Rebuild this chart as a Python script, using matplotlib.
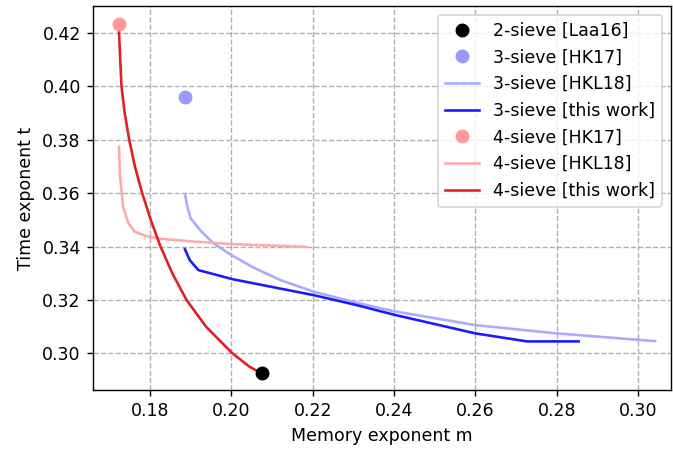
import matplotlib
matplotlib.use("Agg")
import matplotlib.pyplot as plt

# 2-sieve [Laa16]
laa16_m = [0.2075]
laa16_t = [0.2925]

# 3-sieve [HK17]
hk17_3_m = [0.1887]
hk17_3_t = [0.3962]

# 3-sieve [HKL18]
hkl18_3_m = [0.1886, 0.1892, 0.1900, 0.1923, 0.1956, 0.2003, 0.2054, 0.2120, 0.2203, 0.2308, 0.2400, 0.2600, 0.2800, 0.3042]
hkl18_3_t = [0.3597, 0.3549, 0.3506, 0.3462, 0.3412, 0.3366, 0.3322, 0.3275, 0.3231, 0.3190, 0.3158, 0.3106, 0.3075, 0.3046]

# 3-sieve [this work]
this_3_m = [0.1886, 0.1898, 0.1919, 0.2003, 0.2203, 0.2308, 0.2400, 0.2600, 0.2727, 0.2854]
this_3_t = [0.3390, 0.3349, 0.3312, 0.3278, 0.3218, 0.3181, 0.3145, 0.3075, 0.3045, 0.3045]

# 4-sieve [HK17]
hk17_4_m = [0.1723]
hk17_4_t = [0.4234]

# 4-sieve [HKL18]
hkl18_4_m = [0.1724, 0.1726, 0.1734, 0.1747, 0.1763, 0.1792, 0.1825, 0.1907, 0.2005, 0.2184]
hkl18_4_t = [0.3774, 0.3674, 0.3549, 0.3487, 0.3455, 0.3439, 0.3429, 0.3419, 0.3409, 0.3399]

# 4-sieve [this work]
this_4_m = [0.1723, 0.1727, 0.1730, 0.1738, 0.1749, 0.1763, 0.1781, 0.1802, 0.1826, 0.1855, 0.1890, 0.1938, 0.2003, 0.2045, 0.2075]
this_4_t = [0.4234, 0.4100, 0.4000, 0.3900, 0.3800, 0.3700, 0.3600, 0.3500, 0.3400, 0.3300, 0.3200, 0.3100, 0.3000, 0.2950, 0.2925]

dpi = 125
fig = plt.figure(figsize=(673 / dpi, 449 / dpi), dpi=dpi)
ax = fig.add_axes([93 / 673, 1 - 390 / 449, (671 - 93) / 673, (390 - 6) / 449])

ax.plot(laa16_m, laa16_t, 'o', color='black', markersize=7, label='2-sieve [Laa16]', zorder=5)
ax.plot(hk17_3_m, hk17_3_t, 'o', color='#9999ff', markersize=7, label='3-sieve [HK17]', zorder=5)
ax.plot(hkl18_3_m, hkl18_3_t, '-', color='#aaaaff', linewidth=1.5, label='3-sieve [HKL18]')
ax.plot(this_3_m, this_3_t, '-', color='#1a1aff', linewidth=1.5, label='3-sieve [this work]')
ax.plot(hk17_4_m, hk17_4_t, 'o', color='#ff9999', markersize=7, label='4-sieve [HK17]', zorder=5)
ax.plot(hkl18_4_m, hkl18_4_t, '-', color='#ffaaaa', linewidth=1.5, label='4-sieve [HKL18]')
ax.plot(this_4_m, this_4_t, '-', color='#e02020', linewidth=1.5, label='4-sieve [this work]')

ax.set_xlim(0.166, 0.3081)
ax.set_ylim(0.2863, 0.4301)
ax.set_xticks([0.18, 0.20, 0.22, 0.24, 0.26, 0.28, 0.30])
ax.set_yticks([0.30, 0.32, 0.34, 0.36, 0.38, 0.40, 0.42])
ax.grid(True, linestyle='--', color='#b0b0b0')
ax.set_axisbelow(True)
ax.set_xlabel('Memory exponent m')
ax.set_ylabel('Time exponent t')
ax.legend(loc='upper right')

fig.savefig('out.png', dpi=dpi)
